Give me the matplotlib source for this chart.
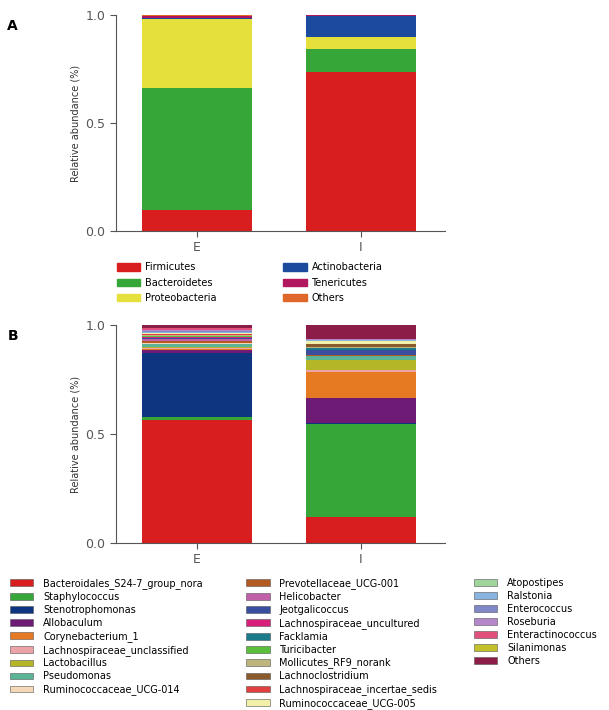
import matplotlib
matplotlib.use("Agg")
import matplotlib.pyplot as plt
from matplotlib.patches import Patch
import numpy as np

# --- Datos ---
grupos = ["E", "I"]

# Panel A: filos
filos = ["Firmicutes", "Bacteroidetes", "Proteobacteria",
         "Actinobacteria", "Tenericutes", "Others"]
filos_E = [0.097, 0.565, 0.320, 0.006, 0.007, 0.005]
filos_I = [0.736, 0.107, 0.055, 0.097, 0.003, 0.002]
colores_filos = ["#d81e1e", "#35a637", "#e6e03c", "#1c4a9c", "#b0175f", "#e0672a"]

# Panel B: generos
generos = ["Bacteroidales_S24-7_group_nora", "Staphylococcus", "Stenotrophomonas",
           "Allobaculum", "Corynebacterium_1", "Lachnospiraceae_unclassified",
           "Lactobacillus", "Pseudomonas", "Ruminococcaceae_UCG-014",
           "Prevotellaceae_UCG-001", "Helicobacter", "Jeotgalicoccus",
           "Lachnospiraceae_uncultured", "Facklamia", "Turicibacter",
           "Mollicutes_RF9_norank", "Lachnoclostridium", "Lachnospiraceae_incertae_sedis",
           "Ruminococcaceae_UCG-005", "Atopostipes", "Ralstonia", "Enterococcus",
           "Roseburia", "Enteractinococcus", "Silanimonas", "Others"]
generos_E = [0.564, 0.014, 0.294, 0.013, 0.006, 0.004, 0.005, 0.012, 0.004,
             0.010, 0.010, 0.003, 0.006, 0.002, 0.002, 0.003, 0.003, 0.004,
             0.002, 0.003, 0.003, 0.006, 0.004, 0.007, 0.002, 0.014]
generos_I = [0.119, 0.425, 0.005, 0.116, 0.119, 0.010, 0.046, 0.016, 0.002,
             0.003, 0.002, 0.020, 0.002, 0.008, 0.003, 0.004, 0.012, 0.002,
             0.012, 0.002, 0.002, 0.002, 0.002, 0.001, 0.002, 0.063]
colores_generos = ["#d81e1e", "#35a637", "#0d3580", "#6d1b74", "#e57a22", "#eba3a8",
                   "#b5b627", "#5cb497", "#f5d8b8", "#b35a22", "#c060a8", "#3a4ea0",
                   "#d8207a", "#1a7a8a", "#5cbf3c", "#bdb47e", "#8b5a2b", "#e04040",
                   "#f2f0a8", "#9fd59a", "#8ab4e0", "#8088c8", "#b488c8", "#e0507a",
                   "#c4c02a", "#8c1c48"]

plt.rcParams["font.family"] = ["DejaVu Sans"]


def apilar(ax, valores_E, valores_I, colores):
    """Dibuja las barras apiladas para los dos grupos."""
    x = np.arange(len(grupos))
    base = np.zeros(len(grupos))
    for vE, vI, c in zip(valores_E, valores_I, colores):
        alto = np.array([vE, vI])
        ax.bar(x, alto, bottom=base, width=0.67, color=c, linewidth=0)
        base += alto
    ax.set_xlim(-0.49, 1.51)
    ax.set_ylim(0, 1.0)
    ax.set_xticks(x)
    ax.set_xticklabels(grupos)
    ax.set_yticks([0.0, 0.5, 1.0])
    ax.set_yticklabels(["0.0", "0.5", "1.0"])
    ax.set_ylabel("Relative abundance (%)", fontsize=7, color="#333333")
    for lado in ["top", "right"]:
        ax.spines[lado].set_visible(False)
    for lado in ["left", "bottom"]:
        ax.spines[lado].set_color("#555555")
        ax.spines[lado].set_linewidth(0.8)
    ax.tick_params(axis="both", labelsize=9, colors="#555555", length=4, width=0.8)


fig = plt.figure(figsize=(6.09, 7.10), dpi=100)

axA = fig.add_axes([0.1905, 0.6746, 0.540, 0.3043])
apilar(axA, filos_E, filos_I, colores_filos)
fig.text(0.012, 0.958, "A", fontsize=10, fontweight="bold")

hA = [Patch(facecolor=c, edgecolor=c, label=n) for n, c in zip(filos, colores_filos)]
fig.legend(handles=hA, loc="upper left", bbox_to_anchor=(0.185, 0.636), ncol=2,
           frameon=False, fontsize=7, handlelength=2.4, handleheight=0.8,
           handletextpad=0.5, columnspacing=6.9, labelspacing=0.55, borderaxespad=0)

axB = fig.add_axes([0.1905, 0.2352, 0.540, 0.3071])
apilar(axB, generos_E, generos_I, colores_generos)
fig.text(0.012, 0.521, "B", fontsize=10, fontweight="bold")

# Leyenda del panel B en tres columnas (9, 10 y 7 entradas)
cortes = [(0, 9, 0.010), (9, 19, 0.398), (19, 26, 0.772)]
for ini, fin, xl in cortes:
    h = [Patch(facecolor=colores_generos[i], edgecolor="#555555", linewidth=0.4,
               label=generos[i]) for i in range(ini, fin)]
    fig.legend(handles=h, loc="upper left", bbox_to_anchor=(xl, 0.191), ncol=1,
               frameon=False, fontsize=7, handlelength=2.4, handleheight=0.7,
               handletextpad=1.0, labelspacing=0.30, borderaxespad=0)

fig.savefig("out.png", dpi=100)
